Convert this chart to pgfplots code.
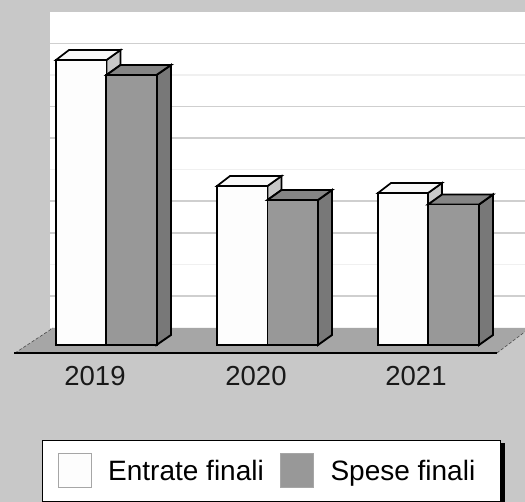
\documentclass[border=0pt]{standalone}
\usepackage{fontspec}
\setmainfont{Liberation Sans}
\usepackage{pgfplots}
\pgfplotsset{compat=1.18}
\definecolor{bg}{HTML}{C8C8C8}
\definecolor{floorc}{HTML}{A6A6A6}
\definecolor{gridd}{HTML}{CFCFCF}
\definecolor{gridl}{HTML}{F0F0F0}
\definecolor{grayf}{HTML}{989898}
\definecolor{grays}{HTML}{787878}
\definecolor{grayt}{HTML}{858585}
\definecolor{whitef}{HTML}{FDFDFD}
\definecolor{whites}{HTML}{C8C8C8}
\definecolor{whitet}{HTML}{F8F8F8}
\begin{document}
\begin{tikzpicture}
\path[use as bounding box] (0,0) rectangle (525pt,502pt);
\clip (0,0) rectangle (525pt,502pt);
\begin{axis}[
  at={(0,0)}, anchor=south west,
  scale only axis, width=525pt, height=502pt,
  xmin=0, xmax=525, ymin=-157, ymax=345,
  axis line style={draw=none},
  axis background/.style={fill=bg},
  clip=true,
  ytick=\empty,
  xtick={95,256,416},
  xticklabels={2019,2020,2021},
  major tick length=0pt,
  xticklabel style={font=\fontsize{27.5}{30}\selectfont, text=black!90, yshift=139pt},
  legend style={
    at={(axis cs:42,-95)}, anchor=north west,
    draw=black, line width=1pt, fill=white,
    font=\fontsize{28}{30}\selectfont,
    legend columns=2, inner xsep=15pt, inner ysep=13pt,
    /tikz/every even column/.append style={column sep=14pt},
    /tikz/every odd column/.append style={column sep=15pt},
  },
  legend cell align=left,
  legend image code/.code={
    \fill[#1,draw=none] (0pt,-17pt) rectangle (33pt,17pt);
    \path[draw=gray!70,fill=none,line width=0.7pt] (0pt,-17pt) rectangle (33pt,17pt);
  },
]
% wall and gridlines
\addplot[forget plot, fill=white, draw=none] coordinates {(50,17)(525,17)(525,333)(50,333)} --cycle;
\addplot[forget plot, gridd, line width=1.3pt] coordinates {(50,301.5)(525,301.5)};
\addplot[forget plot, gridl, line width=1.3pt] coordinates {(50,270)(525,270)};
\addplot[forget plot, gridd, line width=1.3pt] coordinates {(50,238.5)(525,238.5)};
\addplot[forget plot, gridd, line width=1.3pt] coordinates {(50,207)(525,207)};
\addplot[forget plot, gridl, line width=1.3pt] coordinates {(50,175.5)(525,175.5)};
\addplot[forget plot, gridd, line width=1.3pt] coordinates {(50,144)(525,144)};
\addplot[forget plot, gridd, line width=1.3pt] coordinates {(50,112)(525,112)};
\addplot[forget plot, gridl, line width=1.3pt] coordinates {(50,80.5)(525,80.5)};
\addplot[forget plot, gridd, line width=1.3pt] coordinates {(50,49)(525,49)};
% floor
\addplot[forget plot, fill=floorc, draw=none] coordinates {(15,-8)(497,-8)(530,17)(53,17)} --cycle;
\addplot[forget plot, black!70, line width=0.6pt, densely dashed] coordinates {(15,-8)(53,17)};
\addplot[forget plot, black!70, line width=0.6pt, densely dashed] coordinates {(497,-8)(530,17)};
\addplot[forget plot, black, line width=2pt] coordinates {(14,-8)(497,-8)};
% legend shadow
\addplot[forget plot, fill=black, draw=none] coordinates {(500,-98)(505,-98)(505,-160)(500,-160)} --cycle;
% Entrate finali: top and side
\addplot[forget plot, fill=whites, draw=black, line width=1.7pt] coordinates {(106.5,285)(120.5,295)(120.5,280)(106.5,270)} --cycle;
\addplot[forget plot, fill=whitet, draw=black, line width=1.7pt] coordinates {(56,285)(106.5,285)(120.5,295)(69,295)} --cycle;
\addplot[forget plot, fill=whites, draw=black, line width=1.7pt] coordinates {(267.5,159)(281.5,169)(281.5,155)(267.5,145)} --cycle;
\addplot[forget plot, fill=whitet, draw=black, line width=1.7pt] coordinates {(217,159)(267.5,159)(281.5,169)(230,169)} --cycle;
\addplot[forget plot, fill=whites, draw=black, line width=1.7pt] coordinates {(428,152)(442,162)(442,150)(428,140)} --cycle;
\addplot[forget plot, fill=whitet, draw=black, line width=1.7pt] coordinates {(378,152)(428,152)(442,162)(391,162)} --cycle;
% Entrate finali: front
\addplot[ybar, bar width=50.5, bar shift=0pt, fill=whitef, draw=black, line width=1.7pt]
  coordinates {(81.25,285)(242.25,159)(403,152)};
\addlegendentry{Entrate finali}
% Spese finali: side and top
\addplot[forget plot, fill=grays, draw=black, line width=1.9pt] coordinates {(156.5,0)(171,10)(171,280)(156.5,270)} --cycle;
\addplot[forget plot, fill=grayt, draw=black, line width=1.9pt] coordinates {(106.5,270)(156.5,270)(171,280)(120.5,280)} --cycle;
\addplot[forget plot, fill=grays, draw=black, line width=1.9pt] coordinates {(318,0)(332,10)(332,155)(318,145)} --cycle;
\addplot[forget plot, fill=grayt, draw=black, line width=1.9pt] coordinates {(267.5,145)(318,145)(332,155)(281.5,155)} --cycle;
\addplot[forget plot, fill=grays, draw=black, line width=1.9pt] coordinates {(479,0)(493,10)(493,150.5)(479,140.5)} --cycle;
\addplot[forget plot, fill=grayt, draw=black, line width=1.9pt] coordinates {(428,140.5)(479,140.5)(493,150.5)(442,150.5)} --cycle;
% Spese finali: front
\addplot[ybar, bar width=50.5, bar shift=0pt, fill=grayf, draw=black, line width=1.7pt]
  coordinates {(131.5,270)(292.75,145)(453.5,140.5)};
\addlegendentry{Spese finali\hspace*{8pt}}
\end{axis}
\end{tikzpicture}
\end{document}
